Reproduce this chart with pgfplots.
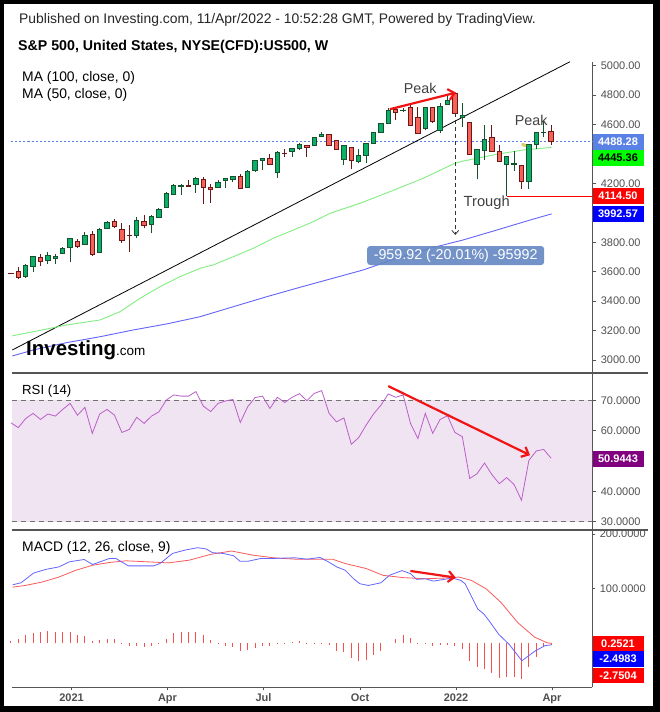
\documentclass[border=0pt]{standalone}
\usepackage{fontspec}
\setmainfont{Liberation Sans}
\usepackage{pgfplots}
\usepackage{pgfplotstable}
\pgfplotsset{compat=1.18}
\usetikzlibrary{arrows.meta}

\definecolor{upfill}{RGB}{10,176,104}
\definecolor{updraw}{RGB}{22,80,45}
\definecolor{dnfill}{RGB}{245,98,88}
\definecolor{dndraw}{RGB}{110,22,22}
\definecolor{ma50}{RGB}{130,238,130}
\definecolor{ma100}{RGB}{100,100,250}
\definecolor{lastblue}{RGB}{90,130,230}
\definecolor{rsiline}{RGB}{185,95,200}
\definecolor{rsiband}{RGB}{241,228,242}
\definecolor{tickgray}{RGB}{80,80,80}
\definecolor{framegray}{RGB}{85,85,85}
\definecolor{histred}{RGB}{245,80,80}
\definecolor{macdblue}{RGB}{100,100,255}
\definecolor{macdred}{RGB}{250,90,90}
\definecolor{measure}{RGB}{100,135,195}
\definecolor{annred}{RGB}{240,20,20}
\definecolor{purplebox}{RGB}{128,0,128}

% weekly candles, x = week index
\pgfplotstableread{
i o h l c
0 3589 3590 3587 3588
1 3603 3630 3553 3562
2 3566 3652 3557 3643
3 3634 3707 3600 3702
4 3698 3720 3639 3670
5 3677 3734 3655 3711
6 3691 3720 3650 3705
7 3725 3766 3720 3759
8 3766 3829 3668 3825
9 3806 3825 3759 3773
10 3786 3870 3786 3847
11 3854 3877 3704 3718
12 3732 3895 3732 3888
13 3895 3945 3895 3935
14 3942 3960 3895 3908
15 3888 3929 3797 3813
16 3849 3917 3732 3845
17 3847 3969 3827 3949
18 3942 3985 3895 3915
19 3922 3985 3861 3974
20 3969 4030 3965 4024
21 4035 4140 4033 4135
22 4126 4196 4124 4187
23 4180 4196 4124 4186
24 4186 4223 4176 4182
25 4191 4244 4137 4235
26 4228 4244 4062 4171
27 4173 4194 4067 4158
28 4171 4221 4171 4207
29 4219 4235 4171 4235
30 4225 4248 4212 4248
31 4248 4262 4164 4164
32 4171 4289 4171 4282
33 4287 4357 4280 4357
34 4355 4371 4294 4371
35 4371 4398 4330 4330
36 4275 4418 4239 4411
37 4406 4434 4377 4403
38 4416 4438 4382 4438
39 4436 4472 4427 4466
40 4459 4459 4377 4445
41 4459 4518 4459 4513
42 4522 4547 4522 4536
43 4536 4536 4454 4461
44 4493 4493 4432 4432
45 4364 4459 4323 4459
46 4445 4445 4296 4357
47 4346 4432 4337 4391
48 4391 4472 4337 4472
49 4472 4547 4472 4547
50 4549 4613 4547 4608
51 4608 4713 4608 4699
52 4706 4713 4633 4683
53 4695 4713 4683 4699
54 4717 4737 4597 4597
55 4649 4722 4540 4540
56 4574 4722 4563 4713
57 4713 4713 4613 4620
58 4563 4744 4540 4726
59 4738 4803 4738 4767
60 4808 4818 4676 4676
61 4647 4749 4586 4665
62 4615 4615 4400 4400
63 4332 4432 4228 4432
64 4423 4595 4359 4500
65 4513 4595 4414 4414
66 4414 4464 4350 4350
67 4332 4384 4114.5 4384
68 4330 4418 4285 4334
69 4323 4323 4165 4210
70 4214 4468 4165 4468
71 4468 4545 4432 4545
72 4543 4627 4513 4547
73 4550 4597 4461 4488
}\candles

\pgfplotstableread{
i v
0.19 3164
3.03 3192
7.54 3238
12.04 3272
14.74 3328
17.45 3419
20.15 3498
22.85 3566
25.55 3623
27.35 3646
30.05 3702
32.76 3759
35.46 3827
38.16 3883
40.86 3940
43.12 3997
47.18 4065
51.23 4144
55.73 4235
60.01 4337
61.14 4352
65.65 4398
69.24 4427
73.08 4445
}\maA

\pgfplotstableread{
i v
0.19 3027
3.03 3068
7.54 3118
12.04 3158
16.54 3204
21.05 3245
25.55 3294
30.05 3362
34.57 3430
39.07 3494
43.12 3550
47.62 3612
52.14 3691
56.64 3759
61.14 3816
65.65 3883
70.15 3951
73.08 3993
}\maB

\pgfplotstableread{
i v
0 62.6
1 61.0
2 64.0
3 65.7
4 63.7
5 65.5
6 64.8
7 67.0
8 69.0
9 65.1
10 67.7
11 59.1
12 65.5
13 67.0
14 65.1
15 59.4
16 60.4
17 64.4
18 62.4
19 64.8
20 66.2
21 70.1
22 71.8
23 71.4
24 71.4
25 72.9
26 68.1
27 66.3
28 69.0
29 69.8
30 70.3
31 62.7
32 67.9
33 70.9
34 71.4
35 67.3
36 71.0
37 69.3
38 71.0
39 72.2
40 69.9
41 72.3
42 73.2
43 65.7
44 62.9
45 64.2
46 55.5
47 57.7
48 61.8
49 65.5
50 68.4
51 72.1
52 71.0
53 71.8
54 62.4
55 57.4
56 65.7
57 59.1
58 63.7
59 64.9
60 59.4
61 58.0
62 44.2
63 45.8
64 49.3
65 45.5
66 42.5
67 44.5
68 42.2
69 37.0
70 50.2
71 53.3
72 53.8
73 50.9
}\rsi

\pgfplotstableread{
i v
0.23 107.3
1.37 111.0
3.08 128.9
4.78 135.7
6.49 140.0
7.91 149.3
9.90 153.6
11.04 144.4
13.32 155.5
14.17 155.5
15.88 141.9
17.30 141.9
19.29 141.9
20.14 146.2
21.85 164.7
23.56 170.9
25.26 175.2
26.40 172.8
27.25 166.0
28.67 164.7
30.10 160.4
30.95 150.5
32.09 150.5
33.80 155.5
35.50 155.5
38.35 156.7
40.05 154.2
41.76 157.3
42.90 149.3
44.03 140.0
45.17 133.9
46.31 118.4
47.16 109.2
48.30 106.1
50.01 111.0
51.14 124.6
52.85 133.3
53.99 127.7
54.84 117.2
55.98 118.4
57.12 114.1
58.54 117.2
59.68 119.7
60.81 115.3
61.38 109.2
63.09 62.9
63.94 53.6
64.80 38.2
65.93 16.6
67.35 -1.9
69.06 -31.6
70.77 -14.3
72.19 -3.8
73.04 -2.5
}\macd

\pgfplotstableread{
i v
0.23 103.0
1.94 106.1
4.21 112.3
6.49 121.5
8.77 133.9
11.04 143.1
13.32 148.1
15.59 151.2
18.44 149.3
21.28 147.4
24.12 152.4
26.97 162.9
29.81 169.1
32.66 161.6
35.50 156.7
38.35 154.2
41.19 154.2
43.46 154.2
45.17 146.2
48.02 137.0
50.29 124.6
53.13 120.3
55.98 118.4
58.82 119.7
60.53 121.5
62.24 115.3
64.23 99.9
66.22 75.2
68.49 38.2
70.77 11.6
72.48 1.2
73.04 0.25
}\signal

\pgfplotstableread{
i v
0 4.3
1 7.4
2 14.8
3 19.8
4 21.0
5 22.2
6 21.0
7 21.0
8 21.0
9 14.8
10 13.6
11 4.3
12 6.2
13 8.6
14 7.4
15 0.6
16 -3.7
17 -4.0
18 -6.0
19 -4.0
20 -1.5
21 7.4
22 18.5
23 21.0
24 21.0
25 21.0
26 14.8
27 5.6
28 0.5
29 -3.7
30 -6.2
31 -14.2
32 -12.3
33 -8.0
34 -3.7
35 -3.7
36 -1.0
37 0.5
38 3.1
39 4.3
40 0.3
41 0.5
42 1.2
43 -3.1
44 -12.9
45 -16.0
46 -26.5
47 -32.7
48 -29.6
49 -21.6
50 -12.9
51 0.0
52 7.4
53 14.8
54 9.3
55 -0.5
56 -1.0
57 -3.7
58 -3.1
59 -1.9
60 -4.9
61 -9.3
62 -31.5
63 -43.8
64 -46.9
65 -54.3
66 -62.3
67 -61.7
68 -60.5
69 -64.8
70 -43.8
71 -24.7
72 -6.2
73 -2.75
}\hist

\pgfplotsset{
  panel/.style={
    scale only axis, width=580.8pt,
    xmin=0.081, xmax=78.568,
    axis y line*=right,
    y axis line style={-, draw=framegray, line width=1pt},
    tick align=outside, major tick length=4pt,
    tick style={draw=framegray, line width=0.8pt},
    yticklabel style={font=\fontsize{11}{13}\selectfont, text=tickgray, xshift=1pt},
    clip=false,
  },
}

\begin{document}
\begin{tikzpicture}[x=1pt,y=1pt]
\path[use as bounding box] (0,0) rectangle (660,712);
\fill[black] (0,0) rectangle (660,712);
\fill[white] (4,6) rectangle (653,708);

% ---------- price panel ----------
\begin{axis}[panel, axis x line=none, at={(11.5pt,339.3pt)}, anchor=south west, height=311pt,
  ymin=2913.6, ymax=5027.2, ytick={3000,3200,3400,3600,3800,4200,4600,4800,5000},
  yticklabel={\pgfmathprintnumber[fixed,fixed zerofill,precision=2,1000 sep={},assume math mode=true]{\tick}}]
  \addplot[lastblue, line width=0.8pt, dash pattern=on 2pt off 2pt] coordinates {(0.081,4488.28) (78.568,4488.28)};
  \addplot[black, line width=0.8pt] coordinates {(0.19,3068) (75.55,5027)};
  \addplot[ma100, line width=0.9pt] table[x=i,y=v] {\maB};
  \addplot[ma50, line width=0.9pt] table[x=i,y=v] {\maA};
  \pgfplotsinvokeforeach{0,...,73}{
    \pgfplotstablegetelem{#1}{o}\of\candles \let\co\pgfplotsretval
    \pgfplotstablegetelem{#1}{h}\of\candles \let\ch\pgfplotsretval
    \pgfplotstablegetelem{#1}{l}\of\candles \let\cl\pgfplotsretval
    \pgfplotstablegetelem{#1}{c}\of\candles \let\cc\pgfplotsretval
    \pgfmathtruncatemacro\isup{\cc<\co ? 0 : 1}
    \ifnum\isup=1 \def\fc{upfill}\def\dc{updraw}\else\def\fc{dnfill}\def\dc{dndraw}\fi
    \pgfmathsetmacro\xa{#1-0.3}
    \pgfmathsetmacro\xb{#1+0.3}
    \edef\doit{
      \noexpand\addplot[\dc, line width=0.9pt] coordinates {(#1,\cl) (#1,\ch)};
      \noexpand\addplot[fill=\fc, draw=\dc, line width=0.9pt] coordinates {(\xa,\co) (\xb,\co) (\xb,\cc) (\xa,\cc)} -- cycle;
    }
    \doit
  }
  \addplot[red, line width=0.9pt] coordinates {(67,4114.5) (78.568,4114.5)};
  \fill[olive!60!yellow, opacity=0.6] (axis cs:69.34,4461) ellipse [x radius=3pt, y radius=1.8pt, rotate=-25];
  \draw[black!80, line width=0.8pt, dash pattern=on 4pt off 3pt, -{Straight Barb[length=4pt,width=7pt]}] (axis cs:60.05,4676) -- (axis cs:60.05,3850);
  \node[fill=measure, fill opacity=0.9, text opacity=1, rounded corners=3pt, text=white, font=\fontsize{14.3}{16}\selectfont, minimum width=177pt, minimum height=19pt, inner sep=0pt] at (axis cs:60.1,3710) {-959.92 (-20.01\%) -95992};
  \draw[annred, line width=2.2pt, -{Straight Barb[length=6pt,width=11pt]}] (axis cs:51.2,4704) -- (axis cs:60.15,4817);
  \node[font=\fontsize{14.3}{16}\selectfont, text=black!75] at (axis cs:55.3,4846) {Peak};
  \node[font=\fontsize{14.3}{16}\selectfont, text=black!75] at (axis cs:70.3,4631) {Peak};
  \node[font=\fontsize{14.7}{16}\selectfont, text=black!75] at (axis cs:64.3,4072) {Trough};
\end{axis}

% ---------- RSI panel ----------
\begin{axis}[panel, axis x line=none, at={(11.5pt,182pt)}, anchor=south west, height=156.6pt,
  ymin=27.2, ymax=78.9, ytick={30,40,60,70},
  yticklabel={\pgfmathprintnumber[fixed,fixed zerofill,precision=4,assume math mode=true]{\tick}}]
  \addplot[fill=rsiband, draw=none] coordinates {(0.081,30) (78.568,30) (78.568,70) (0.081,70)} -- cycle;
  \addplot[black!55, line width=0.8pt, dash pattern=on 5pt off 4pt] coordinates {(0.081,70) (78.568,70)};
  \addplot[black!55, line width=0.8pt, dash pattern=on 5pt off 4pt] coordinates {(0.081,30) (78.568,30)};
  \addplot[rsiline, line width=0.8pt] table[x=i,y=v] {\rsi};
  \draw[annred, line width=2.2pt, -{Straight Barb[length=6pt,width=11pt]}] (axis cs:51.0,74.7) -- (axis cs:70.15,51.9);
\end{axis}

% ---------- MACD panel ----------
\begin{axis}[panel, at={(11.5pt,24.7pt)}, anchor=south west, height=157.3pt,
  ymin=-80.1, ymax=207.5, ytick={100,200},
  yticklabel={\pgfmathprintnumber[fixed,fixed zerofill,precision=4,assume math mode=true]{\tick}},
  axis x line*=bottom, x axis line style={-, draw=framegray, line width=1pt},
  xtick={8.19,21.16,34.14,47.18,60.15,73.12},
  xticklabels={\textbf{2021},Apr,Jul,Oct,\textbf{2022},Apr},
  major tick length=3pt,
  xticklabel style={font=\bfseries\fontsize{11}{13}\selectfont, text=tickgray}]
  \addplot[ycomb, histred, line width=0.9pt] table[x=i,y=v] {\hist};
  \addplot[macdred, line width=0.8pt] table[x=i,y=v] {\signal};
  \addplot[macdblue, line width=0.8pt] table[x=i,y=v] {\macd};
  \draw[annred, line width=2.2pt, -{Straight Barb[length=6pt,width=11pt]}] (axis cs:53.99,132.6) -- (axis cs:60.12,120.4);
\end{axis}

% panel separators
\draw[framegray, line width=1.3pt] (11.5,339) -- (648,339);
\draw[framegray, line width=1.3pt] (11.5,182) -- (648,182);

% value boxes on the right scale
\tikzset{vbox/.style={anchor=west, minimum width=51pt, minimum height=15.5pt, inner sep=0pt, font=\bfseries\fontsize{11}{13}\selectfont}}
\node[vbox, fill=lastblue, text=white] at (592.3,570) {4488.28};
\node[vbox, fill={rgb,255:red,0;green,255;blue,0}, text=black] at (592.3,554.2) {4445.36};
\node[vbox, fill=red, text=white] at (592.3,516.2) {4114.50};
\node[vbox, fill=blue, text=white] at (592.3,498.2) {3992.57};
\node[vbox, fill=purplebox, text=white] at (592.3,253) {50.9443};
\node[vbox, fill=red, text=white] at (592.3,68) {0.2521};
\node[vbox, fill=blue, text=white] at (592.3,53) {-2.4983};
\node[vbox, fill=red, text=white] at (592.3,36.5) {-2.7504};

% header and labels
\node[anchor=base west, inner sep=0pt, font=\fontsize{13.9}{15}\selectfont, text=black!85] at (19,688.5) {Published on Investing.com, 11/Apr/2022 - 10:52:28 GMT, Powered by TradingView.};
\node[anchor=base west, inner sep=0pt, font=\bfseries\fontsize{14.2}{16}\selectfont] at (18,661.5) {S\&P 500, United States, NYSE(CFD):US500, W};
\node[anchor=base west, inner sep=0pt, font=\fontsize{13.9}{15}\selectfont] at (22,630.5) {MA (100, close, 0)};
\node[anchor=base west, inner sep=0pt, font=\fontsize{13.9}{15}\selectfont] at (22,613.5) {MA (50, close, 0)};
\node[anchor=base west, inner sep=0pt, font=\fontsize{13.2}{15}\selectfont] at (22,317.5) {RSI (14)};
\node[anchor=base west, inner sep=0pt, font=\fontsize{13.9}{15}\selectfont] at (22,160.5) {MACD (12, 26, close, 9)};
\node[anchor=base west, inner sep=0pt] at (26,356) {\fontsize{20.5}{24}\selectfont\bfseries Investing\fontsize{13.5}{16}\selectfont\mdseries .com};
\end{tikzpicture}
\end{document}
